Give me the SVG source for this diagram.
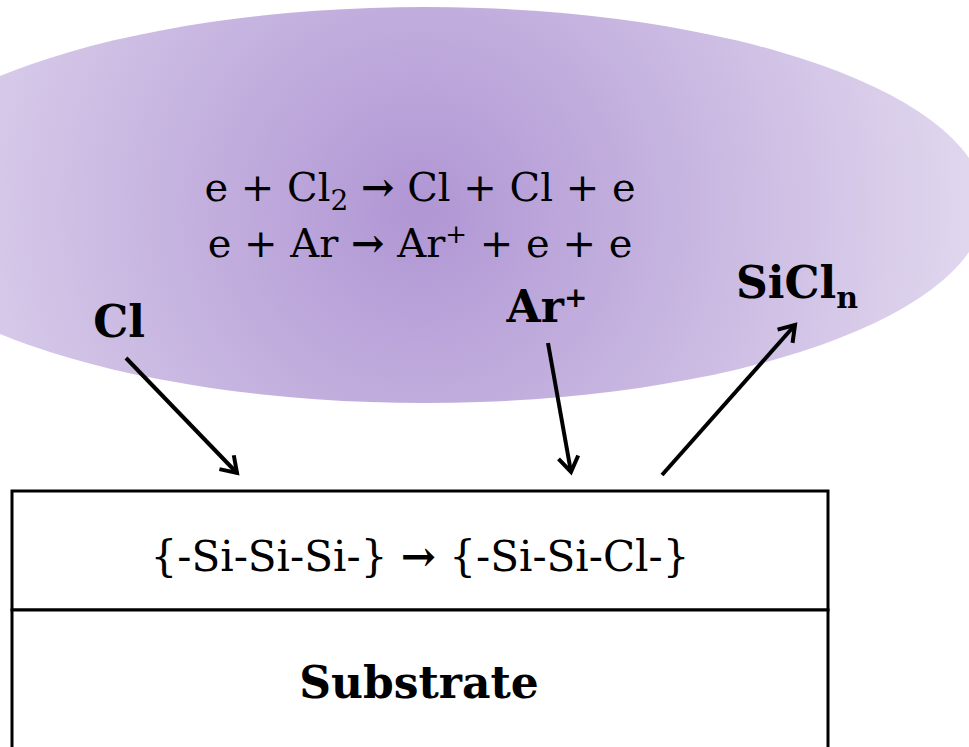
<svg xmlns="http://www.w3.org/2000/svg" width="969" height="747" viewBox="0 0 969 747">
<defs>
<radialGradient id="plasma" gradientUnits="userSpaceOnUse" cx="420" cy="210" r="600">
<stop offset="0" stop-color="#b096d4"/>
<stop offset="1" stop-color="#e4dcf0"/>
</radialGradient>
<marker id="arr" viewBox="0 0 24 24" refX="19" refY="12" markerWidth="24" markerHeight="24" markerUnits="userSpaceOnUse" orient="auto">
<path d="M4,2 L19,12 L4,22" fill="none" stroke="#000" stroke-width="4"/>
</marker>
</defs>
<style>
.eq{font-family:"DejaVu Serif","Liberation Serif",serif;font-size:40px;fill:#000}
.bx{font-family:"DejaVu Serif","Liberation Serif",serif;font-size:42px;fill:#000}
.lbl{font-family:"DejaVu Serif","Liberation Serif",serif;font-size:44px;font-weight:bold;fill:#000}
.ar{font-weight:bold}
.conn{stroke:#000;stroke-width:4;fill:none;marker-end:url(#arr)}
.box{fill:#fff;stroke:#000;stroke-width:3}
</style>
<rect width="969" height="747" fill="#fff"/>
<g id="plasma-cloud">
<ellipse cx="425" cy="205" rx="560" ry="198" fill="url(#plasma)"/>
<text class="eq" x="420" y="201" text-anchor="middle">e + Cl<tspan font-size="28" dy="9">2</tspan><tspan dy="-9"> <tspan class="ar">→</tspan> Cl + Cl + e</tspan></text>
<text class="eq" x="420" y="257" text-anchor="middle">e + Ar <tspan class="ar">→</tspan> Ar<tspan font-size="26" dy="-14">+</tspan><tspan dy="14"> + e + e</tspan></text>
</g>
<g id="label-cl"><text class="lbl" x="119" y="337" text-anchor="middle">Cl</text></g>
<g id="label-ar"><text class="lbl" x="547" y="322" text-anchor="middle">Ar<tspan font-size="28" dy="-15">+</tspan></text></g>
<g id="label-sicln"><text class="lbl" x="797" y="298" text-anchor="middle">SiCl<tspan font-size="30" dy="10">n</tspan></text></g>
<g id="connectors">
<line class="conn" x1="126" y1="358" x2="237" y2="473"/>
<line class="conn" x1="548" y1="343" x2="571" y2="472"/>
<line class="conn" x1="662" y1="475" x2="795" y2="325"/>
</g>
<g id="surface-layer">
<rect class="box" x="12" y="491" width="816" height="119"/>
<text class="bx" x="420" y="571" text-anchor="middle">{-Si-Si-Si-} <tspan class="ar">→</tspan> {-Si-Si-Cl-}</text>
</g>
<g id="substrate">
<rect class="box" x="12" y="610" width="816" height="160"/>
<text class="lbl" x="419" y="698" text-anchor="middle">Substrate</text>
</g>
</svg>
